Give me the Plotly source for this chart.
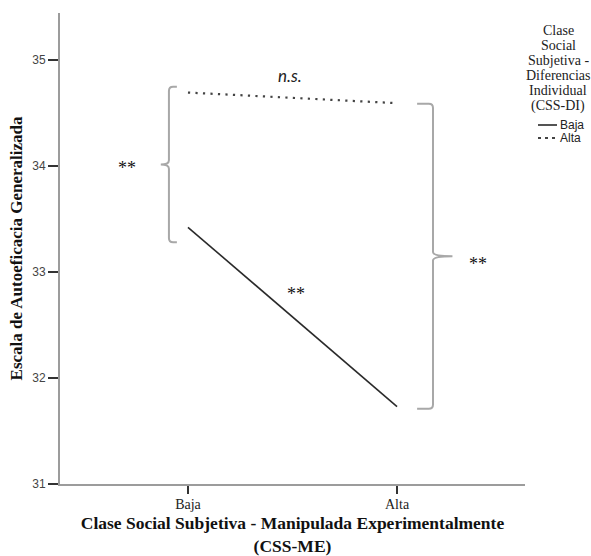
import plotly.graph_objects as go

# ---------------- data ----------------
categories = ["Baja", "Alta"]                 # CSS-ME (x axis)
series_names = ["Baja", "Alta"]               # CSS-DI (legend)
baja_values = [33.42, 31.73]                  # solid line
alta_values = [34.69, 34.59]                  # dotted line
y_ticks = [31, 32, 33, 34, 35]
legend_title_lines = ["Clase", "Social", "Subjetiva -", "Diferencias", "Individual", "(CSS-DI)"]
sig_labels = {"within_alta": "n.s.", "within_baja": "**", "between_baja": "**", "between_alta": "**"}

# ---------------- layout constants ----------------
W, H = 591, 556
L, R, T, B = 60, 66, 13, 72
pw, ph = W - L - R, H - T - B

def px(xp):  # pixel x -> paper
    return (xp - L) / pw

def py(yp):  # pixel y -> paper
    return (H - B - yp) / ph

xs = list(range(len(categories)))
SERIF = "Liberation Serif, Times New Roman, serif"
SANS = "Liberation Sans, Arial, sans-serif"

fig = go.Figure()
fig.add_trace(go.Scatter(x=xs, y=baja_values, mode="lines", name=series_names[0],
                         line=dict(color="#2a2a2a", width=1.6), showlegend=False))
fig.add_trace(go.Scatter(x=xs, y=alta_values, mode="lines", name=series_names[1],
                         line=dict(color="#444444", width=2.2, dash="2.2px,5.3px"), showlegend=False))

# ---------------- brackets (derived from data) ----------------
def brace(x_v, x_end, x_nub, y_top, y_bot, rx, ry):
    y_mid = (y_top + y_bot) / 2
    s = 1 if x_end > x_v else -1
    return (f"M {x_end},{y_top} L {x_v + s*rx},{y_top} Q {x_v},{y_top} {x_v},{y_top - ry} "
            f"L {x_v},{y_mid + ry} Q {x_v},{y_mid} {x_nub},{y_mid} "
            f"Q {x_v},{y_mid} {x_v},{y_mid - ry} "
            f"L {x_v},{y_bot + ry} Q {x_v},{y_bot} {x_v + s*rx},{y_bot} L {x_end},{y_bot}")

rx, ry = 0.02, 0.04
b_top = max(alta_values[0], baja_values[0]) + 0.055
b_bot = min(alta_values[0], baja_values[0]) - 0.14
fig.add_shape(type="path", xref="x", yref="y",
              path=brace(xs[0] - 0.091, xs[0] - 0.053, xs[0] - 0.13, b_top, b_bot, rx, ry),
              line=dict(color="#a8a8a8", width=2))
a_top = max(alta_values[1], baja_values[1]) - 0.005
a_bot = min(alta_values[1], baja_values[1]) - 0.02
fig.add_shape(type="path", xref="x", yref="y",
              path=brace(xs[1] + 0.172, xs[1] + 0.096, xs[1] + 0.265, a_top, a_bot, rx, ry),
              line=dict(color="#a8a8a8", width=2))

# ---------------- significance labels ----------------
mid_x = (xs[0] + xs[1]) / 2
fig.add_annotation(x=mid_x - 0.01, y=max(alta_values) + 0.16, text="<i>" + sig_labels["within_alta"] + "</i>",
                   showarrow=False, font=dict(family="Lato, Open Sans, sans-serif", size=17, color="#222"))
fig.add_annotation(x=mid_x + 0.017, y=(baja_values[0] + baja_values[1]) / 2 + 0.25, text=sig_labels["within_baja"],
                   showarrow=False, font=dict(family=SERIF, size=18, color="#111"), yshift=-4)
fig.add_annotation(x=xs[0] - 0.292, y=(b_top + b_bot) / 2, text=sig_labels["between_baja"],
                   showarrow=False, font=dict(family=SERIF, size=18, color="#111"), yshift=-4)
fig.add_annotation(x=xs[1] + 0.388, y=(a_top + a_bot) / 2 - 0.04, text=sig_labels["between_alta"],
                   showarrow=False, font=dict(family=SERIF, size=18, color="#111"), yshift=-4)

# ---------------- manual legend ----------------
title_y_px = [31, 46, 61, 76, 91, 106]
for line_txt, yp in zip(legend_title_lines, title_y_px):
    fig.add_annotation(xref="paper", yref="paper", x=px(558), y=py(yp), text=line_txt,
                       showarrow=False, xanchor="center", yanchor="middle",
                       font=dict(family=SERIF, size=14, color="#222"))
leg_items = [(series_names[0], 125, None, 1.6, "#2a2a2a"),
             (series_names[1], 138, "3px,4px", 1.8, "#444")]
for name, yp, dash, wdt, col in leg_items:
    fig.add_shape(type="line", xref="paper", yref="paper", x0=px(538), x1=px(557), y0=py(yp), y1=py(yp),
                  line=dict(color=col, width=wdt, dash=dash))
    fig.add_annotation(xref="paper", yref="paper", x=px(558), y=py(yp), text=name, showarrow=False,
                       xanchor="left", yanchor="middle", font=dict(family=SANS, size=12, color="#222"))

# ---------------- axes ----------------
fig.update_xaxes(range=[-0.612, 1.612], tickvals=xs, ticktext=categories,
                 showline=True, linecolor="#9c9c9c", linewidth=2,
                 ticks="outside", ticklen=8, tickwidth=2, tickcolor="#333",
                 tickfont=dict(family=SERIF, size=14, color="#222"), ticklabelstandoff=-2,
                 showgrid=False, zeroline=False,
                 title=dict(text="<b>Clase Social Subjetiva - Manipulada Experimentalmente<br>(CSS-ME)</b>",
                            font=dict(family=SERIF, size=17.5, color="#111"), standoff=12))
fig.update_yaxes(range=[31, 35.44], tickvals=y_ticks, ticktext=[str(v) for v in y_ticks],
                 showline=True, linecolor="#9c9c9c", linewidth=2,
                 ticks="outside", ticklen=10, tickwidth=2, tickcolor="#333",
                 tickfont=dict(family=SANS, size=12, color="#444"),
                 showgrid=False, zeroline=False,
                 title=dict(text="<b>Escala de Autoeficacia Generalizada</b>",
                            font=dict(family=SERIF, size=17, color="#111"), standoff=5))

fig.update_layout(width=W, height=H, margin=dict(l=L, r=R, t=T, b=B, autoexpand=False),
                  plot_bgcolor="white", paper_bgcolor="white", showlegend=False)

fig.write_html("out.html", config={"displayModeBar": False},
               post_script="document.body.style.margin='0px';")
